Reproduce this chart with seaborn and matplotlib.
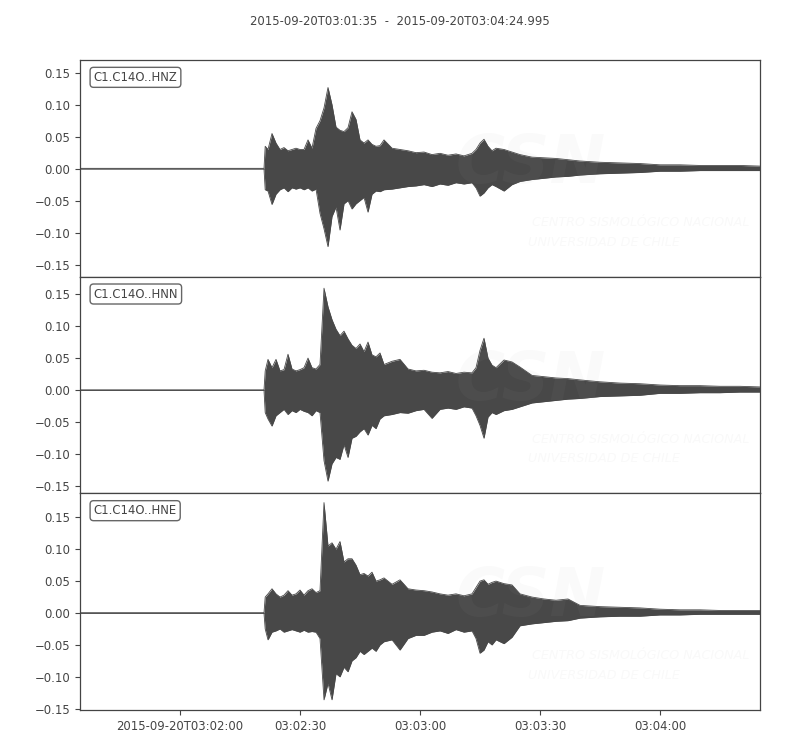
import pandas as pd
import matplotlib
matplotlib.use("Agg")
import matplotlib.pyplot as plt
import seaborn as sns

# header and trace ids
title = "2015-09-20T03:01:35  -  2015-09-20T03:04:24.995"
start = "2015-09-20T03:01:35"
end = "2015-09-20T03:04:25"
channels = ["C1.C14O..HNZ", "C1.C14O..HNN", "C1.C14O..HNE"]

t_sec = [0, 46.0, 46.3,
         47, 48, 49, 50, 51, 52, 53, 54, 55, 56, 57, 58, 59, 60, 61, 62,
         63, 64, 65, 66, 67, 68, 69, 70, 71, 72, 73, 74, 75, 76,
         78, 80, 82, 84, 86, 88, 90, 92, 94, 96, 98,
         99, 100, 101, 102, 103, 104,
         106, 108, 110,
         113, 116, 119, 122, 125,
         130, 135, 140, 145, 150, 155, 160, 165, 170]

# upper / lower envelope of each trace
hnz_up = [0.0005, 0.0005, 0.035,
          0.030, 0.055, 0.040, 0.030, 0.033, 0.028, 0.030, 0.032, 0.030, 0.030, 0.045, 0.032, 0.063, 0.075, 0.095, 0.127,
          0.100, 0.065, 0.060, 0.058, 0.064, 0.089, 0.077, 0.045, 0.040, 0.045, 0.038, 0.035, 0.036, 0.045,
          0.032, 0.030, 0.028, 0.025, 0.026, 0.022, 0.024, 0.021, 0.023, 0.020, 0.024,
          0.030, 0.040, 0.046, 0.035, 0.028, 0.032,
          0.030, 0.026, 0.022,
          0.018, 0.017, 0.016, 0.014, 0.012,
          0.010, 0.009, 0.008, 0.006, 0.006, 0.005, 0.005, 0.005, 0.004]
hnz_lo = [-0.0005, -0.0005, -0.033,
          -0.035, -0.056, -0.040, -0.033, -0.030, -0.036, -0.030, -0.032, -0.030, -0.033, -0.030, -0.035, -0.032, -0.070, -0.094, -0.122,
          -0.075, -0.060, -0.096, -0.055, -0.050, -0.063, -0.055, -0.050, -0.045, -0.068, -0.040, -0.035, -0.036, -0.033,
          -0.032, -0.030, -0.028, -0.027, -0.025, -0.028, -0.024, -0.026, -0.022, -0.024, -0.022,
          -0.030, -0.043, -0.038, -0.030, -0.025, -0.028,
          -0.035, -0.025, -0.020,
          -0.017, -0.015, -0.013, -0.012, -0.010,
          -0.008, -0.007, -0.006, -0.004, -0.004, -0.003, -0.003, -0.003, -0.003]

hnn_up = [0.0005, 0.0005, 0.030,
          0.048, 0.035, 0.048, 0.030, 0.032, 0.056, 0.033, 0.030, 0.032, 0.035, 0.050, 0.035, 0.033, 0.040, 0.159, 0.130,
          0.110, 0.095, 0.085, 0.092, 0.080, 0.070, 0.065, 0.072, 0.060, 0.075, 0.055, 0.052, 0.058, 0.040,
          0.045, 0.048, 0.033, 0.030, 0.031, 0.028, 0.027, 0.029, 0.026, 0.028, 0.027,
          0.035, 0.062, 0.081, 0.050, 0.039, 0.035,
          0.047, 0.044, 0.036,
          0.023, 0.021, 0.019, 0.018, 0.016,
          0.013, 0.011, 0.010, 0.008, 0.007, 0.007, 0.006, 0.006, 0.005]
hnn_lo = [-0.0005, -0.0005, -0.035,
          -0.045, -0.056, -0.040, -0.035, -0.030, -0.038, -0.032, -0.035, -0.030, -0.033, -0.035, -0.040, -0.032, -0.035, -0.110, -0.142,
          -0.115, -0.105, -0.108, -0.085, -0.105, -0.075, -0.072, -0.065, -0.060, -0.070, -0.055, -0.060, -0.045, -0.040,
          -0.038, -0.035, -0.036, -0.032, -0.030, -0.044, -0.030, -0.028, -0.030, -0.026, -0.028,
          -0.040, -0.055, -0.075, -0.042, -0.035, -0.038,
          -0.032, -0.030, -0.026,
          -0.020, -0.018, -0.016, -0.014, -0.013,
          -0.010, -0.009, -0.008, -0.005, -0.005, -0.004, -0.004, -0.003, -0.003]

hne_up = [0.0005, 0.0005, 0.025,
          0.030, 0.038, 0.030, 0.025, 0.028, 0.035, 0.028, 0.030, 0.036, 0.028, 0.035, 0.038, 0.032, 0.035, 0.173, 0.105,
          0.110, 0.100, 0.112, 0.080, 0.085, 0.085, 0.075, 0.060, 0.062, 0.058, 0.064, 0.050, 0.052, 0.055,
          0.045, 0.052, 0.038, 0.036, 0.035, 0.033, 0.030, 0.028, 0.030, 0.027, 0.030,
          0.040, 0.050, 0.052, 0.045, 0.048, 0.050,
          0.046, 0.044, 0.030,
          0.025, 0.022, 0.020, 0.022, 0.012,
          0.010, 0.009, 0.008, 0.006, 0.005, 0.005, 0.004, 0.004, 0.004]
hne_lo = [-0.0005, -0.0005, -0.025,
          -0.042, -0.030, -0.028, -0.025, -0.030, -0.028, -0.026, -0.028, -0.030, -0.027, -0.030, -0.029, -0.030, -0.040, -0.136, -0.110,
          -0.136, -0.095, -0.100, -0.085, -0.092, -0.075, -0.070, -0.060, -0.065, -0.060, -0.055, -0.060, -0.050, -0.045,
          -0.042, -0.058, -0.040, -0.035, -0.035, -0.030, -0.028, -0.032, -0.026, -0.030, -0.028,
          -0.040, -0.063, -0.058, -0.045, -0.050, -0.042,
          -0.048, -0.038, -0.020,
          -0.017, -0.015, -0.013, -0.012, -0.008,
          -0.006, -0.005, -0.005, -0.003, -0.003, -0.002, -0.002, -0.002, -0.002]

ylims = [(-0.169, 0.170), (-0.161, 0.177), (-0.152, 0.1875)]
yticks = [-0.15, -0.10, -0.05, 0.00, 0.05, 0.10, 0.15]
xtick_times = ["2015-09-20T03:02:00", "2015-09-20T03:02:30", "2015-09-20T03:03:00",
               "2015-09-20T03:03:30", "2015-09-20T03:04:00"]
xtick_labels = ["2015-09-20T03:02:00", "03:02:30", "03:03:00", "03:03:30", "03:04:00"]

wave_color = "#484848"
text_color = "#444444"
fs = 8.4

sns.set_style("ticks")
plt.rcParams['font.family'] = ['DejaVu Sans']

fig, axes = plt.subplots(3, 1, figsize=(8, 7.5), dpi=100, sharex=True)
fig.subplots_adjust(left=0.1, right=0.95, top=0.92, bottom=0.0533, hspace=0)

times = pd.Timestamp(start) + pd.to_timedelta(t_sec, unit="s")
traces = [(hnz_up, hnz_lo), (hnn_up, hnn_lo), (hne_up, hne_lo)]

for ax, name, (up, lo), ylim in zip(axes, channels, traces, ylims):
    df = pd.DataFrame({"time": times, "up": up, "lo": lo})
    ax.fill_between(df["time"], df["lo"], df["up"], color=wave_color, linewidth=0, zorder=2)
    sns.lineplot(data=df, x="time", y="up", ax=ax, color=wave_color, linewidth=0.6, zorder=2)
    sns.lineplot(data=df, x="time", y="lo", ax=ax, color=wave_color, linewidth=0.6, zorder=2)
    ax.set_xlabel("")
    ax.set_ylabel("")
    ax.set_ylim(*ylim)
    ax.set_yticks(yticks)
    ax.set_xlim(pd.Timestamp(start), pd.Timestamp(end))
    ax.tick_params(axis="y", labelsize=fs, colors=text_color, length=3.5, width=0.8)
    ax.tick_params(axis="x", labelsize=fs, colors=text_color, length=3.5, width=0.8)
    for sp in ax.spines.values():
        sp.set_color("#444444")
        sp.set_linewidth(0.9)

    # station label
    ax.text(0.02, 0.95, name, transform=ax.transAxes, ha="left", va="top",
            fontsize=fs, color=text_color, zorder=5,
            bbox=dict(boxstyle="round,pad=0.3", fc="white", ec="#666666", lw=1.0))

    # faint agency watermark
    ax.text(0.553, 0.52, "CSN", transform=ax.transAxes, ha="left", va="center",
            fontsize=48, fontstyle="italic", fontweight="bold",
            color="#aaaaaa", alpha=0.06, zorder=4, clip_on=True)
    ax.text(0.665, 0.25, "CENTRO SISMOLÓGICO NACIONAL", transform=ax.transAxes, ha="left", va="center",
            fontsize=9.2, fontstyle="italic",
            color="#aaaaaa", alpha=0.07, zorder=4, clip_on=True)
    ax.text(0.659, 0.16, "UNIVERSIDAD DE CHILE", transform=ax.transAxes, ha="left", va="center",
            fontsize=9.2, fontstyle="italic",
            color="#aaaaaa", alpha=0.07, zorder=4, clip_on=True)

for ax in axes[:-1]:
    ax.tick_params(axis="x", bottom=False, labelbottom=False)

axes[-1].set_xticks(pd.to_datetime(xtick_times))
axes[-1].set_xticklabels(xtick_labels)

fig.suptitle(title, y=0.98, fontsize=fs, color=text_color)

fig.savefig("out.png", dpi=100)
